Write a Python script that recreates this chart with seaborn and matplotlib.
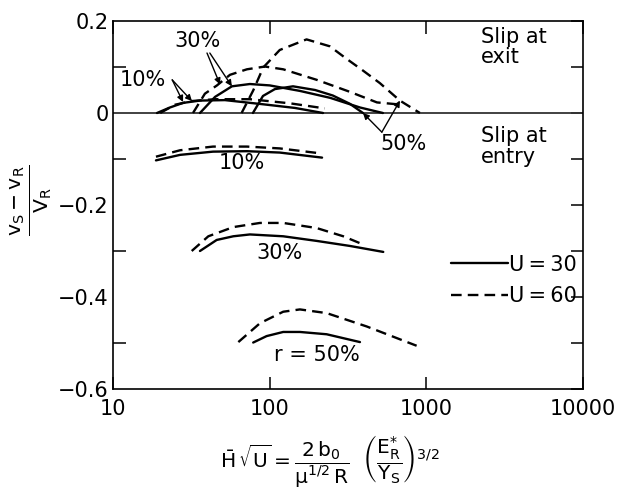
import matplotlib
matplotlib.use("Agg")
import matplotlib.pyplot as plt
import seaborn as sns
import pandas as pd
from matplotlib.lines import Line2D
from matplotlib.ticker import FixedLocator, NullLocator

# ---------------- data ----------------
exit_10_u30_x = [19.1, 23.1, 28.0, 35.9, 51.8, 90.6, 145, 219]
exit_10_u30_y = [0, 0.012, 0.022, 0.027, 0.028, 0.019, 0.011, 0]
exit_10_u60_x = [20, 24.9, 31.9, 44.8, 74.8, 135, 225]
exit_10_u60_y = [0, 0.018, 0.026, 0.030, 0.030, 0.021, 0.010]

exit_30_u30_x = [35.9, 44.8, 57.4, 74.8, 100, 156, 243, 377, 528]
exit_30_u30_y = [0, 0.035, 0.058, 0.063, 0.060, 0.048, 0.033, 0.012, 0]
exit_30_u60_x = [32.4, 38.6, 46.1, 55.8, 71.6, 93.3, 122, 200, 325, 484, 649]
exit_30_u60_y = [0, 0.042, 0.060, 0.083, 0.095, 0.101, 0.095, 0.072, 0.046, 0.023, 0.019]

exit_50_u30_x = [78.2, 90.6, 108, 141, 195, 253, 325, 394]
exit_50_u30_y = [0, 0.037, 0.052, 0.058, 0.050, 0.038, 0.020, 0]
exit_50_u60_x = [66.2, 78.5, 91.0, 116, 172, 242, 309, 395, 505, 678, 910]
exit_50_u60_y = [0, 0.049, 0.099, 0.137, 0.160, 0.145, 0.118, 0.092, 0.065, 0.027, 0]

entry_10_u30_x = [18.8, 26.8, 43.5, 71.6, 116, 216]
entry_10_u30_y = [-0.103, -0.091, -0.084, -0.083, -0.086, -0.097]
entry_10_u60_x = [18.8, 26.8, 43.5, 71.6, 116, 214]
entry_10_u60_y = [-0.095, -0.081, -0.073, -0.073, -0.077, -0.088]

entry_30_u30_x = [35.9, 45.9, 58.6, 74.8, 122, 199, 325, 531]
entry_30_u30_y = [-0.300, -0.276, -0.268, -0.264, -0.268, -0.278, -0.289, -0.302]
entry_30_u60_x = [31.8, 40.6, 58.6, 86.7, 122, 199, 295, 396]
entry_30_u60_y = [-0.300, -0.268, -0.248, -0.239, -0.239, -0.250, -0.268, -0.286]

entry_50_u30_x = [78.5, 95.6, 122, 156, 231, 377]
entry_50_u30_y = [-0.499, -0.485, -0.476, -0.476, -0.481, -0.498]
entry_50_u60_x = [63.1, 86.7, 122, 156, 231, 416, 867]
entry_50_u60_y = [-0.498, -0.457, -0.432, -0.427, -0.435, -0.464, -0.506]

x_ticks = [10, 100, 1000, 10000]
x_tick_labels = ["10", "100", "1000", "10000"]
y_ticks = [0.2, 0, -0.2, -0.4, -0.6]
y_tick_labels = ["0.2", "0", "\u22120.2", "\u22120.4", "\u22120.6"]
y_minor = [0.1, -0.1, -0.3, -0.5]
legend_labels = ["U\u2009=\u200930", "U\u2009=\u200960"]

curves = [
    ("exit10_30", 30, exit_10_u30_x, exit_10_u30_y),
    ("exit10_60", 60, exit_10_u60_x, exit_10_u60_y),
    ("exit30_30", 30, exit_30_u30_x, exit_30_u30_y),
    ("exit30_60", 60, exit_30_u60_x, exit_30_u60_y),
    ("exit50_30", 30, exit_50_u30_x, exit_50_u30_y),
    ("exit50_60", 60, exit_50_u60_x, exit_50_u60_y),
    ("entry10_30", 30, entry_10_u30_x, entry_10_u30_y),
    ("entry10_60", 60, entry_10_u60_x, entry_10_u60_y),
    ("entry30_30", 30, entry_30_u30_x, entry_30_u30_y),
    ("entry30_60", 60, entry_30_u60_x, entry_30_u60_y),
    ("entry50_30", 30, entry_50_u30_x, entry_50_u30_y),
    ("entry50_60", 60, entry_50_u60_x, entry_50_u60_y),
]
rows = []
for name, u, xs, ys in curves:
    for i, (xv, yv) in enumerate(zip(xs, ys)):
        rows.append({"curve": name, "U": u, "x": xv, "y": yv, "order": i})
df = pd.DataFrame(rows)

# ---------------- style ----------------
sns.set_theme(style="white")
plt.rcParams["font.family"] = ["DejaVu Sans"]
plt.rcParams["mathtext.default"] = "regular"
plt.rcParams["mathtext.fontset"] = "dejavusans"
for k in ["text.color", "axes.labelcolor", "xtick.color", "ytick.color"]:
    plt.rcParams[k] = "black"

fig = plt.figure(figsize=(6.18, 4.95), dpi=100)
ax = fig.add_axes([113 / 618, 1 - 389 / 495, 470 / 618, 368 / 495])

sns.lineplot(data=df, x="x", y="y", units="curve", estimator=None, sort=False,
             style="U", dashes={30: "", 60: (4.5, 2.6)}, color="black",
             linewidth=1.7, legend=False, ax=ax)

ax.set_xscale("log")
ax.set_xlim(10, 10000)
ax.set_ylim(-0.6, 0.2)
ax.axhline(0, color="#333333", lw=1.3, zorder=1)

for s in ax.spines.values():
    s.set_visible(True)
    s.set_color("black")
    s.set_linewidth(1.2)

ax.xaxis.set_major_locator(FixedLocator(x_ticks))
ax.xaxis.set_minor_locator(NullLocator())
ax.set_xticklabels(x_tick_labels)
ax.yaxis.set_major_locator(FixedLocator(y_ticks))
ax.yaxis.set_minor_locator(FixedLocator(y_minor))
ax.set_yticklabels(y_tick_labels)
ax.tick_params(which="both", direction="in", top=True, right=True,
               bottom=True, left=True, color="black", width=1.1)
ax.tick_params(axis="x", which="major", length=9, pad=7, labelsize=15)
ax.tick_params(axis="y", which="major", length=9, pad=3, labelsize=15)
ax.tick_params(axis="y", which="minor", length=9)
ax.set_xlabel("")
ax.set_ylabel("")
for t in ax.yaxis.get_major_ticks():
    t.tick1line.set_visible(False)

# ---------------- annotations ----------------
tfs = 15
ax.text(0.783, 0.985, "Slip at\nexit", transform=ax.transAxes, ha="left",
        va="top", fontsize=tfs, linespacing=1.05)
ax.text(0.783, 0.715, "Slip at\nentry", transform=ax.transAxes, ha="left",
        va="top", fontsize=tfs, linespacing=1.05)
ax.text(0.274, 0.614, "10%", transform=ax.transAxes, ha="center",
        va="center", fontsize=tfs)
ax.text(0.355, 0.370, "30%", transform=ax.transAxes, ha="center",
        va="center", fontsize=tfs)
ax.text(0.434, 0.092, "r = 50%", transform=ax.transAxes, ha="center",
        va="center", fontsize=tfs)
ax.text(0.179, 0.946, "30%", transform=ax.transAxes, ha="center",
        va="center", fontsize=tfs)
ax.text(0.064, 0.840, "10%", transform=ax.transAxes, ha="center",
        va="center", fontsize=tfs)
ax.text(0.619, 0.666, "50%", transform=ax.transAxes, ha="center",
        va="center", fontsize=tfs)

arrow = dict(arrowstyle="-|>", color="black", lw=1.0, mutation_scale=9,
             shrinkA=0, shrinkB=0)
for start, tip in [((0.200, 0.913), (48.2, 0.062)),
                   ((0.206, 0.913), (57.4, 0.058)),
                   ((0.126, 0.840), (28.0, 0.024)),
                   ((0.126, 0.840), (31.9, 0.026)),
                   ((0.572, 0.698), (394, 0.0)),
                   ((0.572, 0.698), (679, 0.027))]:
    ax.annotate("", xy=tip, xycoords="data", xytext=start,
                textcoords="axes fraction", arrowprops=arrow)

handles = [Line2D([], [], color="black", lw=1.7, ls="-"),
           Line2D([], [], color="black", lw=1.7, dashes=(4.5, 2.6))]
ax.legend(handles, legend_labels, loc="upper left",
          bbox_to_anchor=(0.72, 0.365), frameon=False, fontsize=tfs,
          handlelength=2.7, handletextpad=0.05, labelspacing=0.55,
          borderaxespad=0, borderpad=0)

fig.text(0.050, 0.596, r"$\frac{v_S - v_R}{V_R}$", rotation=90,
         ha="center", va="center", fontsize=21)
fig.text(0.534, 0.067,
         r"$\bar{H}\,\sqrt{U} = \dfrac{2\,b_0}{\mu^{1/2}\,R}\ \ \left(\dfrac{E_R^{*}}{Y_S}\right)^{3/2}$",
         ha="center", va="center", fontsize=14.5)

fig.savefig("out.png", dpi=100)
